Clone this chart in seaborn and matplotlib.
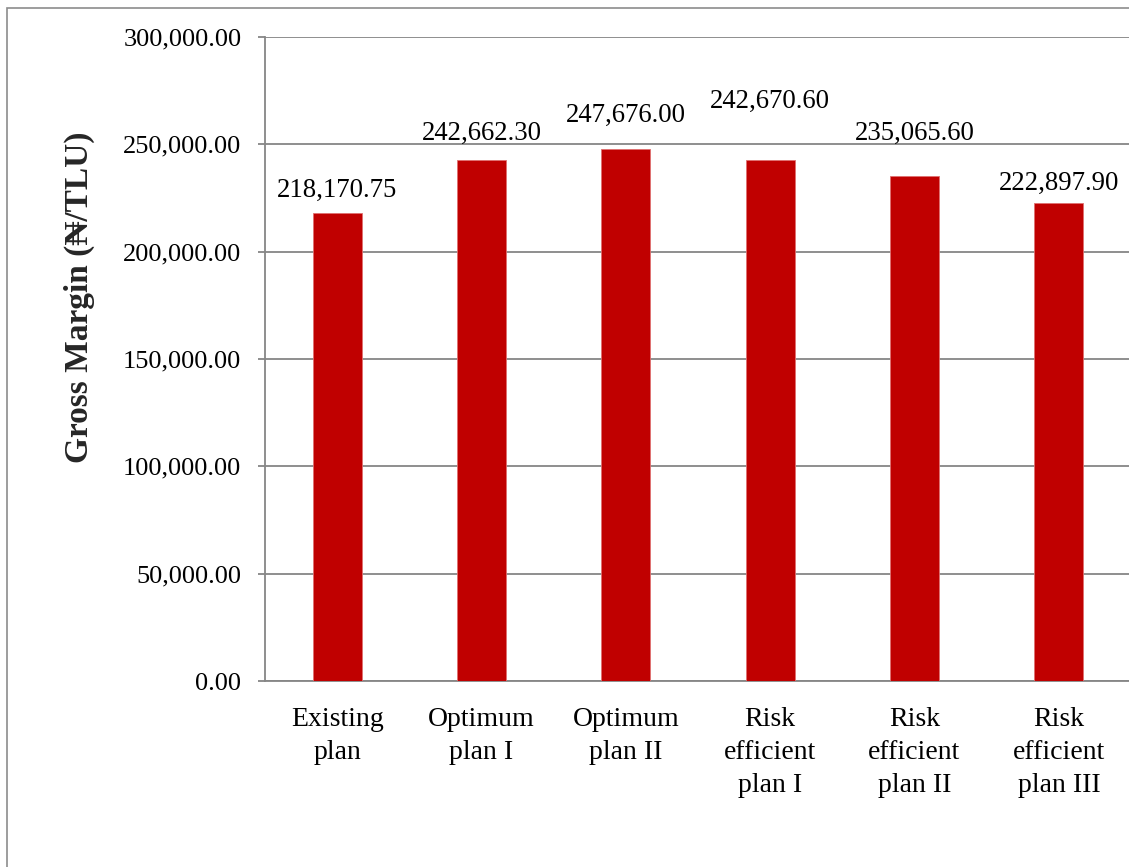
import matplotlib
matplotlib.use("Agg")
import matplotlib.pyplot as plt
import seaborn as sns
import pandas as pd
from matplotlib.patches import Rectangle

# Gross margin per plan (naira per tropical livestock unit)
plans = ["Existing\nplan", "Optimum\nplan I", "Optimum\nplan II",
         "Risk\nefficient\nplan I", "Risk\nefficient\nplan II", "Risk\nefficient\nplan III"]
gross_margin = [218170.75, 242662.30, 247676.00, 242670.60, 235065.60, 222897.90]
value_labels = ["218,170.75", "242,662.30", "247,676.00", "242,670.60", "235,065.60", "222,897.90"]
yticks = [0, 50000, 100000, 150000, 200000, 250000, 300000]

# vertical placement of each value label above its bar, in pixels
label_offsets = [22, 27, 34, 59, 43, 19]

sns.set_theme(style="white")
plt.rcParams["font.family"] = ["Liberation Serif", "DejaVu Serif"]

W, H = 1129, 867
fig = plt.figure(figsize=(W / 100, H / 100), dpi=100)
ax = fig.add_axes([265 / W, 1 - 681 / H, (1131 - 265) / W, (681 - 37) / H])

# outer chart frame
fig.patches.append(Rectangle((7 / W, -0.05), 1.2, 1 - 8 / H + 0.05, transform=fig.transFigure,
                             fill=False, edgecolor="#8c8c8c", linewidth=1.2, zorder=0))

df = pd.DataFrame({"plan": plans, "gm": gross_margin})
sns.barplot(data=df, x="plan", y="gm", color="#C00000", saturation=1, width=0.34,
            edgecolor="#E07070", linewidth=0.6, ax=ax, zorder=3)

ax.set_ylim(0, 300000)
ax.set_xlim(-0.5, len(plans) - 0.5)
ax.set_yticks(yticks)
ax.set_yticklabels([f"{v:,.2f}" for v in yticks])
ax.set_xticks(range(len(plans)))
ax.set_xticklabels(plans, linespacing=1.4, fontsize=20)
ax.yaxis.grid(True, color="#868686", linewidth=1.3, zorder=0)
ax.set_axisbelow(True)

for side in ["top", "right"]:
    ax.spines[side].set_visible(False)
for side in ["left", "bottom"]:
    ax.spines[side].set_color("#868686")
    ax.spines[side].set_linewidth(1.3)

ax.tick_params(axis="y", which="major", left=True, length=5, width=1.3, color="#868686",
               pad=12, labelsize=19, labelcolor="black")
ax.tick_params(axis="x", bottom=False, pad=13, labelcolor="black")

ax.set_xlabel("")
ax.set_ylabel("Gross Margin (\u20a6/TLU)", fontsize=24, fontweight="bold")
ax.yaxis.set_label_coords(-0.196, 0.596)

for i, (v, txt, off) in enumerate(zip(gross_margin, value_labels, label_offsets)):
    ax.annotate(txt, xy=(i, v), xytext=(0, off), textcoords="offset pixels",
                ha="center", va="center", fontsize=19.3, color="black", zorder=5)

fig.savefig("out.png", dpi=100)
